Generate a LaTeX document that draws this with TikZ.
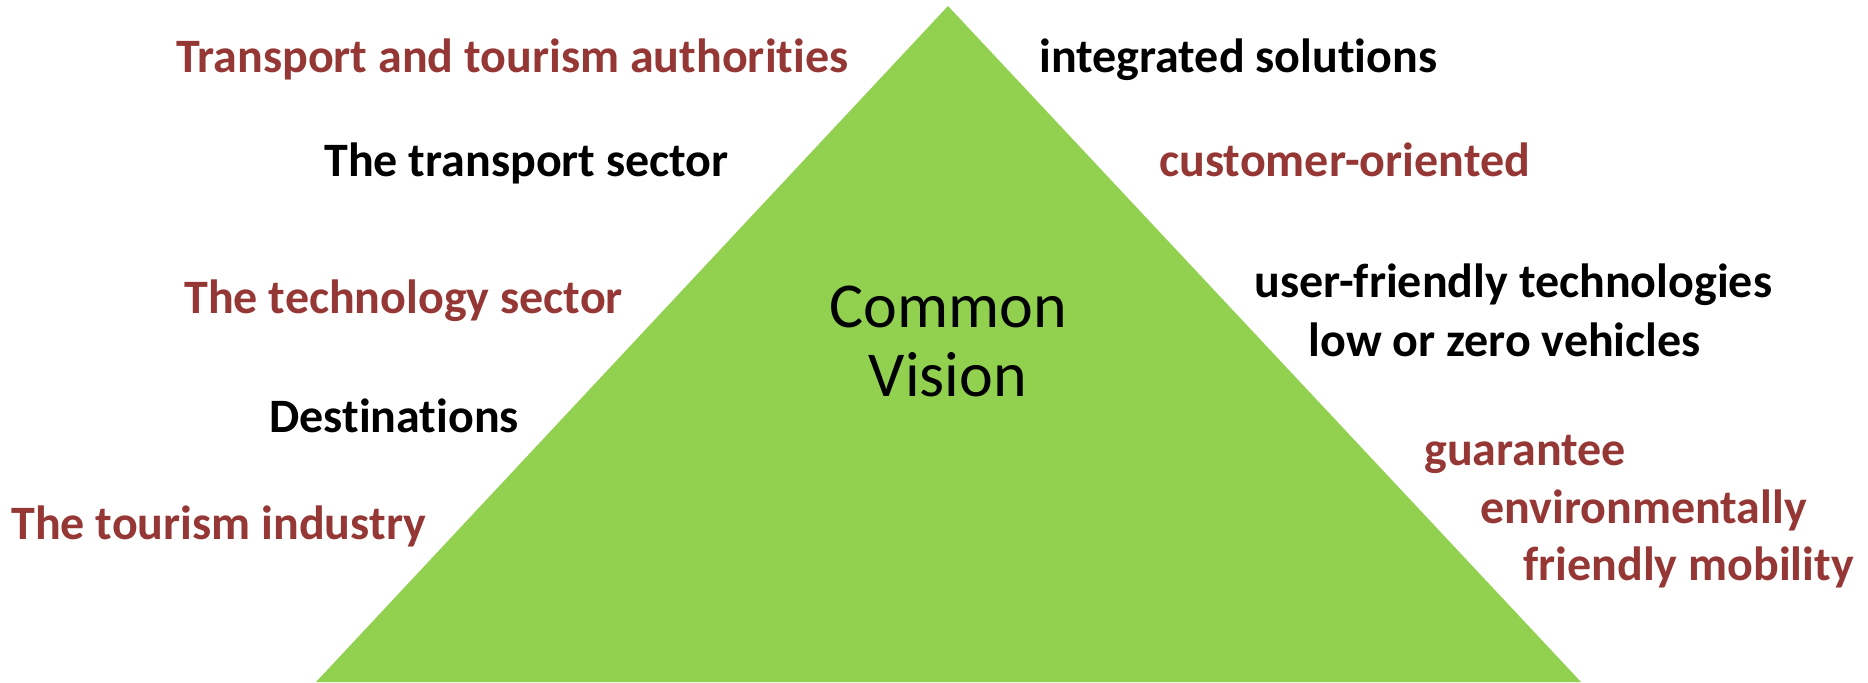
\documentclass[tikz,border=0pt]{standalone}
\usepackage{fontspec}
\setmainfont[Ligatures={CommonOff}]{Carlito}
\definecolor{pgreen}{HTML}{92D050}
\definecolor{pred}{HTML}{953735}
\begin{document}
\begin{tikzpicture}[x=0.5pt,y=-0.5pt,
  lbl/.style={inner sep=0pt, anchor=base west, font=\fontsize{24}{29.5}\selectfont\bfseries},
  redlbl/.style={lbl, text=pred},
  blklbl/.style={lbl, text=black}]
\useasboundingbox (0,0) rectangle (1868,682);
\fill[pgreen] (948,6) -- (1581,682) -- (316,682) -- cycle;
\node[inner sep=0pt, align=center, font=\fontsize{32}{34.5}\selectfont] (cv) at (948,341) {Common\\Vision};
\node[redlbl] (a1) at (176,72) {Transport and tourism authorities};
\node[blklbl] (a2) at (324,176) {The transport sector};
\node[redlbl] (a3) at (184,313) {The technology sector};
\node[blklbl] (a4) at (269,432) {Destinations};
\node[redlbl] (a5) at (11,539) {The tourism industry};
\node[blklbl] (b1) at (1039,72) {integrated solutions};
\node[redlbl] (b2) at (1159,176) {customer-oriented};
\node[blklbl] (b3) at (1254,297) {user-friendly technologies};
\node[blklbl] (b4) at (1308,356) {low or zero vehicles};
\node[redlbl] (b5) at (1424,465) {guarantee};
\node[redlbl] (b6) at (1480,523) {environmentally};
\node[redlbl] (b7) at (1523,580) {friendly mobility};
\end{tikzpicture}
\end{document}
